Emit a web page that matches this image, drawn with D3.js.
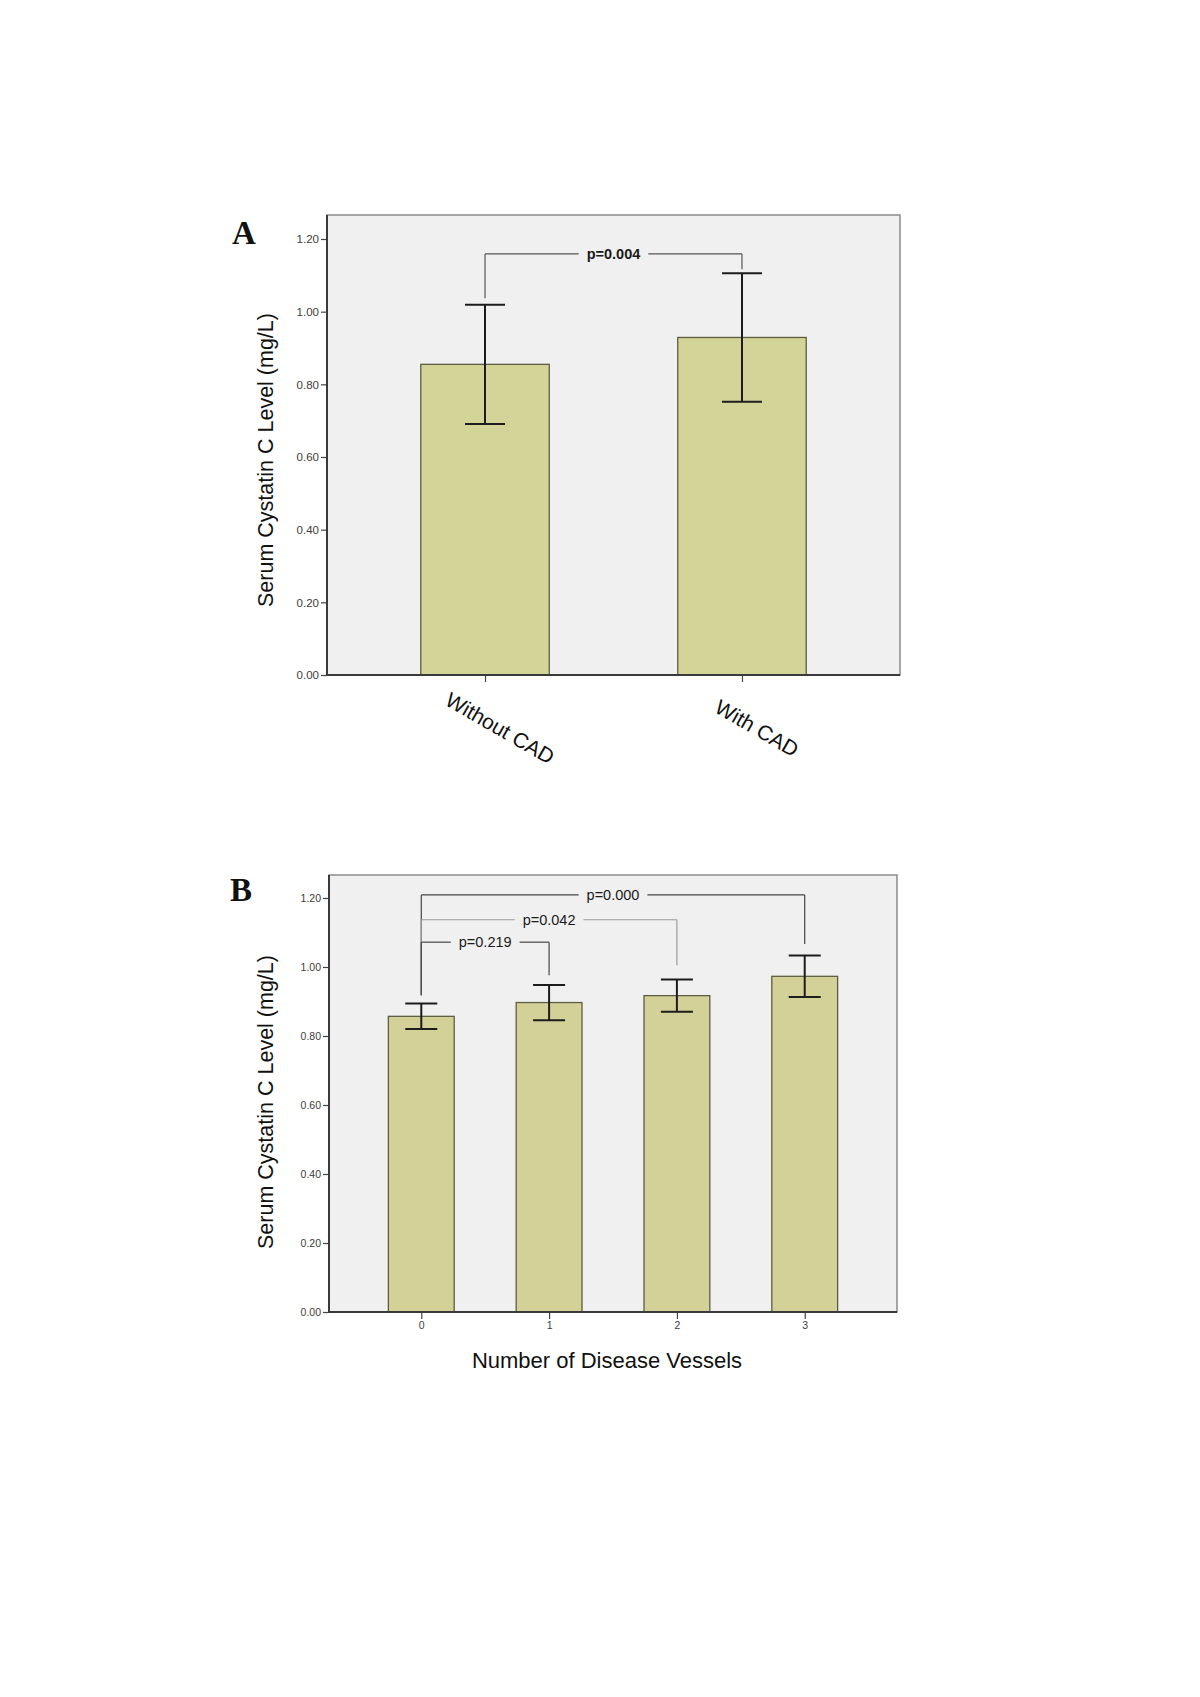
<!DOCTYPE html>
<html>
<head>
<meta charset="utf-8">
<script src="https://cdn.jsdelivr.net/npm/d3@7"></script>
<style>
  html, body { margin: 0; padding: 0; background: #ffffff; }
  svg { display: block; font-family: "Liberation Sans", Arial, Helvetica, sans-serif; }
</style>
</head>
<body>
<div id="chart"></div>
<script>
// ---- Data ----
const groupsA = ["Without CAD", "With CAD"];
const meansA = [0.855, 0.929];
const errA = [0.164, 0.177];

const vesselsB = ["0", "1", "2", "3"];
const meansB = [0.857, 0.897, 0.917, 0.973];
const errB = [0.037, 0.051, 0.047, 0.060];

const yTickValues = [0.00, 0.20, 0.40, 0.60, 0.80, 1.00, 1.20];

const bracketLabelsA = ["p=0.004"];
const bracketFromA = [0];
const bracketToA = [1];
const bracketLevelA = [1.159];
const bracketLeftEndA = [1.037];
const bracketRightEndA = [1.117];

const bracketLabelsB = ["p=0.000", "p=0.042", "p=0.219"];
const bracketFromB = [0, 0, 0];
const bracketToB = [3, 2, 1];
const bracketLevelB = [1.209, 1.137, 1.072];
const bracketLeftEndB = [0.918, 0.918, 0.918];
const bracketRightEndB = [1.067, 1.005, 0.976];

const yTitle = "Serum Cystatin C Level (mg/L)";
const xTitleB = "Number of Disease Vessels";

// ---- Drawing ----
const SANS = "'Liberation Sans', Arial, Helvetica, sans-serif";
const SERIF = "'Liberation Serif', 'Times New Roman', Times, serif";
const W = 1200, H = 1697;
const svg = d3.select("#chart").append("svg")
  .attr("width", W).attr("height", H)
  .attr("viewBox", `0 0 ${W} ${H}`);

function drawPanel(cfg) {
  const g = svg.append("g");
  const x = d3.scalePoint().domain(cfg.cats).range([cfg.left, cfg.right]).padding(cfg.pad);
  const y = d3.scaleLinear().domain([0, 1.2]).range([cfg.bottom, cfg.y12]);
  const bw = x.step() * cfg.barFrac;

  // plot background
  g.append("rect")
    .attr("x", cfg.left).attr("y", cfg.top)
    .attr("width", cfg.right - cfg.left).attr("height", cfg.bottom - cfg.top)
    .attr("fill", "#f0f0f0").attr("stroke", "#8a8a8a").attr("stroke-width", 1.5);

  // bars
  g.selectAll("rect.bar").data(cfg.means).enter().append("rect")
    .attr("class", "bar")
    .attr("x", (d, i) => x(cfg.cats[i]) - bw / 2)
    .attr("y", d => y(d))
    .attr("width", bw)
    .attr("height", d => y(0) - y(d))
    .attr("fill", cfg.barColor)
    .attr("stroke", "#5d5d42").attr("stroke-width", 1.3);

  // error bars
  const eg = g.append("g").attr("stroke", "#1c1c1c").attr("stroke-width", 2).attr("fill", "none");
  cfg.means.forEach((m, i) => {
    const cx = x(cfg.cats[i]);
    const lo = y(m - cfg.errs[i]), hi = y(m + cfg.errs[i]);
    eg.append("line").attr("x1", cx).attr("x2", cx).attr("y1", lo).attr("y2", hi);
    eg.append("line").attr("x1", cx - cfg.cap / 2).attr("x2", cx + cfg.cap / 2).attr("y1", hi).attr("y2", hi);
    eg.append("line").attr("x1", cx - cfg.cap / 2).attr("x2", cx + cfg.cap / 2).attr("y1", lo).attr("y2", lo);
  });

  // brackets
  cfg.brLabels.forEach((lab, i) => {
    const x1 = x(cfg.cats[cfg.brFrom[i]]), x2 = x(cfg.cats[cfg.brTo[i]]);
    const yl = y(cfg.brLevel[i]);
    const col = cfg.brColors[i];
    const bg = g.append("g").attr("stroke", col).attr("stroke-width", 1.2).attr("fill", "none");
    const mid = (x1 + x2) / 2;
    const t = g.append("text")
      .attr("x", mid).attr("y", yl)
      .attr("text-anchor", "middle").attr("dominant-baseline", "central")
      .style("font-family", SANS)
      .attr("font-size", cfg.brFont).attr("font-weight", cfg.brWeight)
      .attr("fill", "#1a1a1a").text(lab);
    const tw = t.node().getBBox().width;
    bg.append("line").attr("x1", x1).attr("x2", mid - tw / 2 - 8).attr("y1", yl).attr("y2", yl);
    bg.append("line").attr("x1", mid + tw / 2 + 8).attr("x2", x2).attr("y1", yl).attr("y2", yl);
    bg.append("line").attr("x1", x1).attr("x2", x1).attr("y1", yl).attr("y2", y(cfg.brLeftEnd[i]));
    bg.append("line").attr("x1", x2).attr("x2", x2).attr("y1", yl).attr("y2", y(cfg.brRightEnd[i]));
  });

  // y axis
  const yAxis = d3.axisLeft(y).tickValues(yTickValues).tickFormat(d3.format(".2f")).tickSize(6).tickPadding(2);
  const ya = g.append("g").attr("transform", `translate(${cfg.left},0)`).call(yAxis);
  ya.select(".domain").remove();
  ya.selectAll(".tick line").attr("stroke", "#444").attr("stroke-width", 1.2);
  ya.selectAll(".tick text").attr("fill", "#3c3c3c").attr("font-size", cfg.tickFont)
    .attr("font-family", SANS);
  g.append("line").attr("x1", cfg.left).attr("x2", cfg.left).attr("y1", cfg.top).attr("y2", cfg.bottom)
    .attr("stroke", "#3a3a3a").attr("stroke-width", 2);

  // x axis
  const xAxis = d3.axisBottom(x).tickSize(7).tickFormat(cfg.showXTickText ? (d => d) : () => "").tickPadding(3);
  const xa = g.append("g").attr("transform", `translate(0,${cfg.bottom})`).call(xAxis);
  xa.select(".domain").remove();
  xa.selectAll(".tick line").attr("stroke", "#444").attr("stroke-width", 1.2);
  xa.selectAll(".tick text").attr("fill", "#3c3c3c").attr("font-size", cfg.tickFont)
    .attr("font-family", SANS);
  g.append("line").attr("x1", cfg.left).attr("x2", cfg.right).attr("y1", cfg.bottom).attr("y2", cfg.bottom)
    .attr("stroke", "#3a3a3a").attr("stroke-width", 2);

  // rotated category labels
  if (cfg.rotLabels) {
    cfg.cats.forEach(c => {
      g.append("text")
        .attr("transform", `translate(${x(c) + 15},${cfg.bottom + 53}) rotate(30)`)
        .attr("text-anchor", "middle").attr("dominant-baseline", "central")
        .style("font-family", SANS)
        .attr("font-size", 21).attr("fill", "#111").text(c);
    });
  }

  // y title
  g.append("text")
    .attr("transform", `translate(266,${cfg.yTitleY}) rotate(-90)`)
    .attr("text-anchor", "middle").attr("dominant-baseline", "central")
    .style("font-family", SANS)
    .attr("font-size", 21.5).attr("fill", "#111").text(yTitle);

  // x title
  if (cfg.xTitle) {
    g.append("text")
      .attr("x", 607).attr("y", cfg.bottom + 56)
      .attr("text-anchor", "middle")
      .style("font-family", SANS)
      .attr("font-size", 22).attr("fill", "#111").text(cfg.xTitle);
  }

  // panel letter
  g.append("text")
    .attr("x", cfg.letterX).attr("y", cfg.letterY)
    .style("font-family", SERIF)
    .attr("font-weight", "bold").attr("font-size", 33).attr("fill", "#111").text(cfg.letter);
}

drawPanel({
  cats: groupsA, means: meansA, errs: errA,
  left: 327, right: 900, top: 215, bottom: 675, y12: 239,
  pad: 0.615, barFrac: 0.5, cap: 40, barColor: "#d3d498",
  brLabels: bracketLabelsA, brFrom: bracketFromA, brTo: bracketToA, brLevel: bracketLevelA,
  brLeftEnd: bracketLeftEndA, brRightEnd: bracketRightEndA, brColors: ["#555"],
  brFont: 14.5, brWeight: "bold",
  tickFont: 11.5, showXTickText: false, rotLabels: true,
  yTitleY: 460, xTitle: null, letter: "A", letterX: 232, letterY: 244
});

drawPanel({
  cats: vesselsB, means: meansB, errs: errB,
  left: 329, right: 897, top: 875, bottom: 1312, y12: 898,
  pad: 0.722, barFrac: 0.515, cap: 32, barColor: "#d3d098",
  brLabels: bracketLabelsB, brFrom: bracketFromB, brTo: bracketToB, brLevel: bracketLevelB,
  brLeftEnd: bracketLeftEndB, brRightEnd: bracketRightEndB, brColors: ["#444", "#9a9a9a", "#444"],
  brFont: 14.5, brWeight: "normal",
  tickFont: 10.5, showXTickText: true, rotLabels: false,
  yTitleY: 1102, xTitle: xTitleB, letter: "B", letterX: 230, letterY: 901
});
</script>
</body>
</html>
